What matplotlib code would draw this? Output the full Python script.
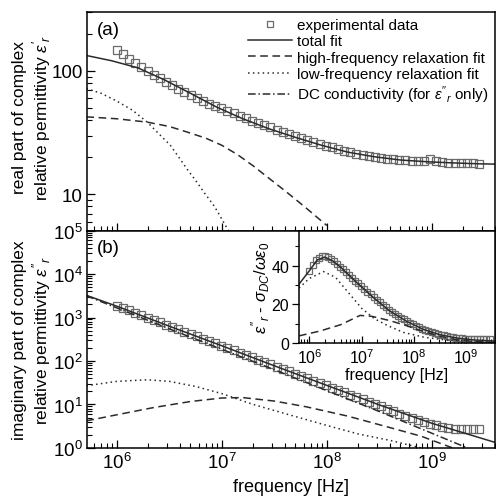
import numpy as np
import matplotlib.pyplot as plt
from matplotlib.ticker import NullFormatter, FixedLocator, MultipleLocator, LogLocator

plt.rcParams['font.family'] = ['Liberation Sans', 'DejaVu Sans']
plt.rcParams['mathtext.fontset'] = 'custom'
plt.rcParams['mathtext.rm'] = 'Liberation Sans'
plt.rcParams['mathtext.it'] = 'Liberation Sans:italic'
plt.rcParams['mathtext.bf'] = 'Liberation Sans:bold'

# measured frequencies (Hz), 60 points from 1 MHz to ~2.8 GHz
freq = 10 ** (6 + 0.0585 * np.arange(60))

# (a) real part, experimental
eps_re = [147, 136, 126, 117, 108, 100, 93, 87, 82, 77,
          72, 68, 64, 60, 57, 54.5, 52, 50, 47.5, 45.5,
          43.5, 41.5, 39.5, 38, 36.5, 35, 33.5, 32, 31, 29.8,
          28.7, 27.6, 26.6, 25.7, 24.8, 24.0, 23.3, 22.6, 22.0, 21.4,
          20.9, 20.5, 20.1, 19.8, 19.5, 19.3, 19.1, 18.9, 18.7, 18.6,
          18.7, 19.4, 18.7, 18.3, 18.1, 18.0, 18.0, 17.9, 17.9, 17.8]

# (b) imaginary part, experimental
eps_im = [1862, 1644, 1452, 1282, 1135, 1000, 885, 782, 690, 610,
          540, 476, 421, 372, 329, 290, 256, 226, 200, 177,
          156, 138, 122, 108, 95, 84, 74, 66, 58, 51,
          45, 40, 35.3, 31.2, 27.5, 24.3, 21.5, 19.0, 16.8, 14.8,
          13.1, 11.6, 10.2, 9.0, 8.0, 7.0, 6.2, 5.5, 4.9, 4.4,
          4.0, 3.6, 3.3, 3.0, 2.9, 2.8, 2.8, 2.8, 2.8, 2.8]

# inset: eps'' minus DC part, experimental
eps_im_corr = [37.5, 40.5, 42.8, 44.2, 44.9, 45.0, 44.6, 43.6, 42.3, 41.0,
               39.6, 38.1, 36.7, 35.2, 33.7, 32.3, 30.9, 29.4, 28.0, 26.6,
               25.2, 23.7, 22.4, 21.1, 19.8, 18.5, 17.2, 16.1, 15.1, 14.1,
               13.2, 12.3, 11.4, 10.5, 9.7, 8.9, 8.1, 7.4, 6.8, 6.2,
               5.7, 5.2, 4.8, 4.4, 4.0, 3.6, 3.3, 3.0, 2.8, 2.6,
               2.4, 2.3, 2.1, 2.0, 2.0, 1.9, 1.9, 1.9, 1.9, 1.9]

# fit curves (log10 f, value)
re_tot_lf = [5.70, 5.95, 6.20, 6.45, 6.70, 6.95, 7.20, 7.45, 7.70, 7.95, 8.20, 8.45, 8.70, 8.95, 9.20, 9.45, 9.60]
re_tot = [134, 121, 106, 85, 66, 51, 41, 34, 29, 25, 22, 20.2, 19.0, 18.4, 18.0, 17.7, 17.6]
re_hf_lf = [5.71, 6.0, 6.29, 6.5, 6.67, 6.85, 7.0, 7.15, 7.3, 7.45, 7.62, 7.8, 8.0]
re_hf = [42.5, 41, 38.5, 35.5, 32, 28.5, 25, 21, 17, 13.5, 10.4, 7.8, 5.6]
re_lf_lf = [5.71, 5.85, 6.0, 6.15, 6.29, 6.4, 6.51, 6.6, 6.67, 6.75, 6.83, 6.93, 7.02, 7.1]
re_lf = [72, 66, 57, 48, 38.5, 31, 25, 19.5, 16, 13, 10.4, 8, 5.9, 4.5]

im_tot_lf = [5.71, 6.0, 6.5, 7.0, 7.5, 8.0, 8.5, 9.0, 9.3, 9.6]
im_tot = [3236, 1820, 631, 224, 77.6, 27.5, 9.8, 3.7, 2.24, 1.35]
im_hf_lf = [5.71, 6.0, 6.35, 6.7, 7.0, 7.2, 7.5, 7.8, 8.2, 8.6, 8.9, 9.2]
im_hf = [4.2, 5.8, 8.5, 11.7, 14.1, 14.4, 12, 8.9, 5.4, 2.95, 1.86, 1.0]
im_lf_lf = [5.71, 6.0, 6.29, 6.5, 6.75, 7.0, 7.3, 7.6, 8.0, 8.3, 8.6, 8.9]
im_lf = [27, 34, 37, 34, 26, 17.8, 10, 6.2, 3.3, 2.1, 1.5, 1.0]
im_dc_lf = [5.71, 6.5, 7.5, 8.5, 9.34]
im_dc = [3160, 548, 63, 6.9, 1.0]

ins_tot_lf = [5.8, 6.0, 6.15, 6.29, 6.45, 6.6, 6.9, 7.22, 7.54, 7.86, 8.18, 8.5, 8.82, 9.14, 9.55]
ins_tot = [30.5, 37.5, 43, 44.5, 42.5, 39.2, 31.5, 23.7, 16.6, 11.3, 7.1, 4.3, 2.6, 1.6, 1.0]
ins_hf_lf = [5.8, 6.2, 6.6, 6.97, 7.2, 7.54, 7.86, 8.18, 8.5, 8.8, 9.14, 9.55]
ins_hf = [3.7, 6.2, 9.5, 14.3, 13.8, 11.6, 9, 6, 3.5, 1.8, 0.8, 0.3]
ins_lf_lf = [5.8, 6.0, 6.27, 6.5, 6.75, 7.0, 7.25, 7.5, 7.8, 8.2, 8.6, 9.0, 9.55]
ins_lf = [28.5, 33.5, 37, 34, 26, 18, 12.5, 9, 5.5, 3, 1.6, 0.9, 0.4]

lc = '#2b2b2b'
sq = dict(marker='s', mfc='none', mec='#6a6a6a', ls='none', mew=0.9)
st_solid = dict(color=lc, lw=1.1)
st_hf = dict(color=lc, lw=1.1, ls=(0, (5, 3)))
st_lf = dict(color=lc, lw=1.1, ls=(0, (1, 2.2)))
st_dc = dict(color=lc, lw=1.1, ls=(0, (5, 1.8, 1, 1.8)))

fig = plt.figure(figsize=(4.96, 5.02), dpi=100)
ax1 = fig.add_axes([0.1754, 0.5388, 0.8226, 0.4352])
ax2 = fig.add_axes([0.1754, 0.1056, 0.8226, 0.4332])
axi = fig.add_axes([0.6028, 0.3147, 0.3952, 0.2231])

f = lambda lf: 10 ** np.array(lf)

# (a)
ax1.plot(freq, eps_re, ms=5.5, label='experimental data', **sq)
ax1.plot(f(re_tot_lf), re_tot, label='total fit', **st_solid)
ax1.plot(f(re_hf_lf), re_hf, label='high-frequency relaxation fit', **st_hf)
ax1.plot(f(re_lf_lf), re_lf, label='low-frequency relaxation fit', **st_lf)
ax1.plot([], [], label=r"DC conductivity (for $\varepsilon''_r$ only)", **st_dc)
ax1.set_xscale('log')
ax1.set_yscale('log')
ax1.set_xlim(5.2e5, 4.0e9)
ax1.set_ylim(5.1, 300)
ax1.yaxis.set_major_locator(FixedLocator([10, 100]))
ax1.set_yticklabels(['10', '100'])
ax1.yaxis.set_minor_formatter(NullFormatter())
ax1.xaxis.set_major_formatter(NullFormatter())
ax1.xaxis.set_minor_formatter(NullFormatter())
ax1.set_ylabel("real part of complex\nrelative permittivity $\\varepsilon'_r$", fontsize=12.5)
ax1.yaxis.set_label_coords(-0.083, 0.52)
ax1.text(0.025, 0.96, '(a)', transform=ax1.transAxes, fontsize=13.5, va='top')
ax1.legend(loc='upper right', bbox_to_anchor=(1.0, 1.0), frameon=False, fontsize=11,
           handlelength=2.9, handletextpad=0.35, labelspacing=0.15, borderpad=0.3,
           borderaxespad=0.1, markerscale=0.8)

# (b)
ax2.plot(freq, eps_im, ms=5.5, **sq)
ax2.plot(f(im_tot_lf), im_tot, **st_solid)
ax2.plot(f(im_hf_lf), im_hf, **st_hf)
ax2.plot(f(im_lf_lf), im_lf, **st_lf)
ax2.plot(f(im_dc_lf), im_dc, **st_dc)
ax2.set_xscale('log')
ax2.set_yscale('log')
ax2.set_xlim(5.2e5, 4.0e9)
ax2.set_ylim(1, 1e5)
ax2.yaxis.set_major_locator(LogLocator(base=10, numticks=12))
ax2.yaxis.set_minor_locator(LogLocator(base=10, subs=np.arange(2, 10), numticks=12))
ax2.yaxis.set_minor_formatter(NullFormatter())
ax2.xaxis.set_minor_formatter(NullFormatter())
ax2.set_ylabel("imaginary part of complex\nrelative permittivity $\\varepsilon''_r$", fontsize=12.5)
ax2.yaxis.set_label_coords(-0.083, 0.5)
ax2.set_xlabel('frequency [Hz]', fontsize=13, labelpad=4)
ax2.text(0.025, 0.96, '(b)', transform=ax2.transAxes, fontsize=13.5, va='top')

for ax in (ax1, ax2):
    ax.tick_params(which='both', direction='in', top=False, right=False, labelsize=13.5, pad=3)
    ax.tick_params(which='major', length=6, width=0.9)
    ax.tick_params(which='minor', length=3.5, width=0.8)
    for s in ax.spines.values():
        s.set_linewidth(1.1)

# inset
axi.plot(freq, eps_im_corr, ms=4, **sq)
axi.plot(f(ins_tot_lf), ins_tot, **st_solid)
axi.plot(f(ins_hf_lf), ins_hf, **st_hf)
axi.plot(f(ins_lf_lf), ins_lf, **st_lf)
axi.set_xscale('log')
axi.set_xlim(6.3e5, 3.6e9)
axi.set_ylim(0, 58)
axi.yaxis.set_major_locator(MultipleLocator(20))
axi.yaxis.set_minor_locator(MultipleLocator(10))
axi.xaxis.set_minor_formatter(NullFormatter())
axi.tick_params(axis='x', which='both', direction='in', labelsize=11.5, pad=3)
axi.tick_params(axis='y', which='both', direction='out', labelsize=11.5, pad=2)
axi.tick_params(which='major', length=5, width=0.9)
axi.tick_params(which='minor', length=3, width=0.8)
axi.set_xlabel('frequency [Hz]', fontsize=11.5, labelpad=1)
axi.set_ylabel(r"$\varepsilon''_r$ - $\sigma_{DC}/\omega\varepsilon_0$", fontsize=12)
axi.yaxis.set_label_coords(-0.14, 0.5)
for s in axi.spines.values():
    s.set_linewidth(1.1)

fig.savefig('out.png', dpi=100)
